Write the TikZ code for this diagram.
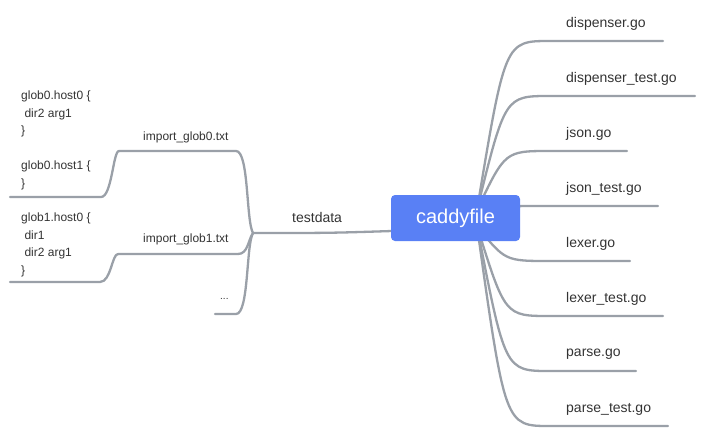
\documentclass[tikz,border=0pt]{standalone}
\usepackage{fontspec}
\setmainfont{Liberation Sans}
\usetikzlibrary{backgrounds}
\definecolor{linegray}{RGB}{154,160,168}
\definecolor{rootblue}{RGB}{89,128,245}
\definecolor{txt}{RGB}{51,51,51}
\tikzset{
  conn/.style={draw=linegray, line width=2.3pt, line cap=round},
  lbl/.style={anchor=west, inner sep=0pt, text=txt, font=\fontsize{14}{17}\selectfont},
  slbl/.style={anchor=west, inner sep=0pt, text=txt, font=\fontsize{12}{14}\selectfont},
  multi/.style={anchor=north west, inner sep=0pt, text=txt, align=left, font=\fontsize{12}{17.5}\selectfont},
  rootbox/.style={fill=rootblue, rounded corners=4pt, text=white, font=\fontsize{20}{24}\selectfont, minimum width=129pt, minimum height=46pt, inner sep=0pt},
}
\begin{document}
\begin{tikzpicture}[x=1pt,y=-1pt]
\useasboundingbox (0,0) rectangle (706,437);
% root
\node[rootbox] (root) at (455.5,218) {caddyfile};
\coordinate (rcU) at (477,210);
\coordinate (rcD) at (477,226);
% right labels
\node[lbl] (n1) at (566,24) {dispenser.go};
\node[lbl] (n2) at (566,79) {dispenser\_test.go};
\node[lbl] (n3) at (566,134) {json.go};
\node[lbl] (n4) at (566,189) {json\_test.go};
\node[lbl] (n5) at (566,244) {lexer.go};
\node[lbl] (n6) at (566,299) {lexer\_test.go};
\node[lbl] (n7) at (566,354) {parse.go};
\node[lbl] (n8) at (566,409) {parse\_test.go};
% underline ends
\coordinate (a1) at (550,41);  \coordinate (b1) at (663,41);
\coordinate (a2) at (550,96);  \coordinate (b2) at (695,96);
\coordinate (a3) at (550,151); \coordinate (b3) at (627,151);
\coordinate (a4) at (550,206); \coordinate (b4) at (658,206);
\coordinate (a5) at (550,261); \coordinate (b5) at (630,261);
\coordinate (a6) at (550,316); \coordinate (b6) at (663,316);
\coordinate (a7) at (550,371); \coordinate (b7) at (636,371);
\coordinate (a8) at (550,426); \coordinate (b8) at (668,426);
% left side
\node[lbl] (td) at (292,217) {testdata};
\coordinate (tdR) at (392,231);
\coordinate (tdL) at (253,233);
\node[slbl] (ig0) at (143,137) {import\_glob0.txt};
\node[slbl] (ig1) at (143,239) {import\_glob1.txt};
\node[anchor=base west, inner sep=0pt, text=txt, font=\fontsize{10}{12}\selectfont] (dots) at (220,299) {...};
\coordinate (g0R) at (236,151); \coordinate (g0L) at (119,151);
\coordinate (g1R) at (238,254); \coordinate (g1L) at (118,254);
\coordinate (dR) at (236,314);  \coordinate (dL) at (215,314);
\node[multi] (h0) at (21,90.8) {glob0.host0 \{\\ \mbox{}\ dir2 arg1\\ \}\\ \mbox{}\\ glob0.host1 \{\\ \}};
\node[multi] (h1) at (21,212.8) {glob1.host0 \{\\ \mbox{}\ dir1\\ \mbox{}\ dir2 arg1\\ \}};
\coordinate (h0R) at (101,197); \coordinate (h0L) at (10,197);
\coordinate (h1R) at (100,282); \coordinate (h1L) at (10,282);
\begin{scope}[on background layer]
  \foreach \i/\y in {1/41,2/96,3/151,4/206}{
    \draw[conn] (rcU) .. controls (505,\y) .. (a\i) -- (b\i);
  }
  \foreach \i/\y in {5/261,6/316,7/371,8/426}{
    \draw[conn] (rcD) .. controls (505,\y) .. (a\i) -- (b\i);
  }
  \draw[conn] (tdR) .. controls (330,233) .. (tdL);
  \draw[conn] (tdL) .. controls (246,221) and (249,151) .. (g0R) -- (g0L);
  \draw[conn] (tdL) .. controls (248,240) and (248,254) .. (g1R) -- (g1L);
  \draw[conn] (tdL) .. controls (246,245) and (249,314) .. (dR) -- (dL);
  \draw[conn] (g0L) .. controls (113,151) and (112,197) .. (h0R) -- (h0L);
  \draw[conn] (g1L) .. controls (112,254) and (111,282) .. (h1R) -- (h1L);
\end{scope}
\end{tikzpicture}
\end{document}
